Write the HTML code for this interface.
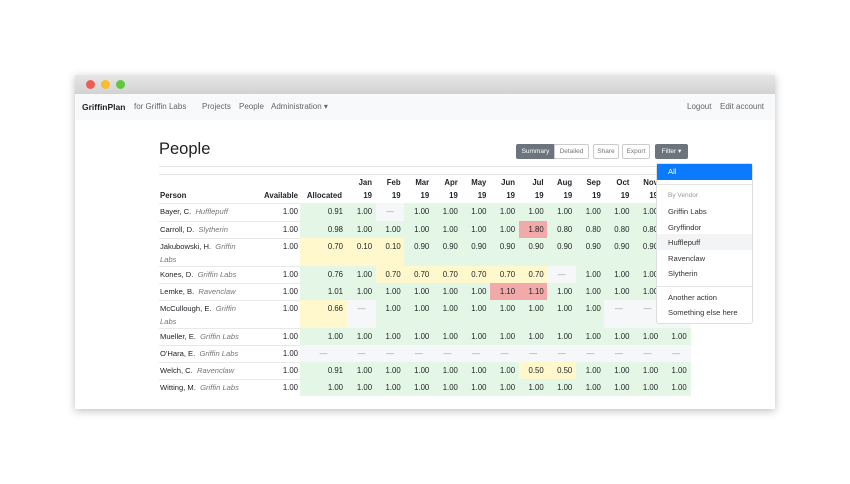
<!DOCTYPE html>
<html><head><meta charset="utf-8">
<style>
*{margin:0;padding:0;box-sizing:border-box}
body{width:850px;height:484px;background:#fff;font-family:"Liberation Sans",sans-serif;color:#212529;position:relative;overflow:hidden}
.a{position:absolute}
.win{left:75px;top:75px;width:700px;height:334px;background:#fff;box-shadow:0 2px 8px rgba(0,0,0,.25)}
.tb{left:0;top:0;width:700px;height:19px;background:linear-gradient(#e6e6e6,#d2d2d2)}
.dot{width:9px;height:9px;border-radius:50%;top:5px}
.nav{left:0;top:19px;width:700px;height:26px;background:#f8f9fa;font-size:8px;color:#666}
.cell{position:absolute;font-size:7.8px;text-align:right;padding-right:4px;line-height:17px}
.hd{font-size:7.8px;font-weight:bold;text-align:right;line-height:13px}
.btn{top:144px;height:15px;font-size:6.5px;line-height:13px;text-align:center;border:1px solid #ccc;border-radius:2px;color:#777}
.dd{font-size:7.6px;color:#333;left:668px}
</style></head><body>
<div class="a win">
 <div class="a tb">
  <div class="a dot" style="left:11px;background:#ee5c55"></div>
  <div class="a dot" style="left:26px;background:#f6bd2f"></div>
  <div class="a dot" style="left:41px;background:#5fc83f"></div>
 </div>
 <div class="a nav">
  <span class="a" style="left:7px;top:8px;font-size:8.5px;color:#222;font-weight:bold">GriffinPlan</span>
  <span class="a" style="left:59px;top:8px">for Griffin Labs</span>
  <span class="a" style="left:127px;top:8px">Projects</span>
  <span class="a" style="left:164px;top:8px">People</span>
  <span class="a" style="left:196px;top:8px">Administration ▾</span>
  <span class="a" style="left:612px;top:8px">Logout</span>
  <span class="a" style="left:645px;top:8px">Edit account</span>
 </div>
</div>
<div class="a" style="left:159px;top:140px;font-size:16.5px;color:#222">People</div>
<div class="a btn" style="left:516px;width:39px;background:#6c757d;color:#fff;border-color:#6c757d">Summary</div>
<div class="a btn" style="left:554px;width:35px">Detailed</div>
<div class="a btn" style="left:593px;width:26px">Share</div>
<div class="a btn" style="left:622px;width:28px">Export</div>
<div class="a btn" style="left:655px;width:33px;background:#6c757d;color:#fff;border-color:#6c757d">Filter ▾</div>
<div class="a" style="left:159px;top:166px;width:531px;height:1px;background:#e5e5e5"></div>
<div class="a" style="left:159px;top:174px;width:531px;height:1px;background:#e5e5e5"></div>
<div id="tbl"></div>
<div class="a" style="left:656px;top:163px;width:97px;height:161px;background:#fff;border:1px solid #ddd;border-radius:3px">
</div>
<div class="a" style="left:657px;top:164px;width:95px;height:16px;background:#0a7bff"></div>
<div class="a dd" style="top:167px;color:#fff">All</div>
<div class="a" style="left:657px;top:184px;width:95px;height:1px;background:#e5e5e5"></div>
<div class="a dd" style="top:192px;font-size:6.5px;color:#999">By Vendor</div>
<div class="a" style="left:657px;top:234px;width:95px;height:16px;background:#f3f4f6"></div>
<div class="a dd" style="top:207px">Griffin Labs</div>
<div class="a dd" style="top:223px">Gryffindor</div>
<div class="a dd" style="top:238px">Hufflepuff</div>
<div class="a dd" style="top:254px">Ravenclaw</div>
<div class="a dd" style="top:269px">Slytherin</div>
<div class="a" style="left:657px;top:286px;width:95px;height:1px;background:#e5e5e5"></div>
<div class="a dd" style="top:293px">Another action</div>
<div class="a dd" style="top:308px">Something else here</div>
<script>
const months=["Jan","Feb","Mar","Apr","May","Jun","Jul","Aug","Sep","Oct","Nov","Dec"];
const names=["Bayer, C.","Carroll, D.","Jakubowski, H.","Kones, D.","Lemke, B.","McCullough, E.","Mueller, E.","O'Hara, E.","Welch, C.","Witting, M."];
const vendors=["Hufflepuff","Slytherin","Griffin Labs","Griffin Labs","Ravenclaw","Griffin Labs","Griffin Labs","Griffin Labs","Ravenclaw","Griffin Labs"];
const available=[1,1,1,1,1,1,1,1,1,1];
const allocated=[0.91,0.98,0.70,0.76,1.01,0.66,1.00,null,0.91,1.00];
const monthly=[
[1,null,1,1,1,1,1,1,1,1,1,1],
[1,1,1,1,1,1,1.8,0.8,0.8,0.8,0.8,0.8],
[0.1,0.1,0.9,0.9,0.9,0.9,0.9,0.9,0.9,0.9,0.9,0.9],
[1,0.7,0.7,0.7,0.7,0.7,0.7,null,1,1,1,1],
[1,1,1,1,1,1.1,1.1,1,1,1,1,1],
[null,1,1,1,1,1,1,1,1,null,null,null],
[1,1,1,1,1,1,1,1,1,1,1,1],
[null,null,null,null,null,null,null,null,null,null,null,null],
[1,1,1,1,1,1,0.5,0.5,1,1,1,1],
[1,1,1,1,1,1,1,1,1,1,1,1]];
const rowH=[18,17,28,17,17,28,17,17,17,17];
const T=document.getElementById('tbl');
function color(v){if(v==null)return'#f6f7f9';if(v>1.05)return'#f1a9a9';if(v<0.75)return'#fff8cc';return'#e4f7e7';}
function fmt(v){return v==null?'—':v.toFixed(2);}
function add(x,y,w,h,txt,bg,cls,nm,extra){const d=document.createElement('div');d.className=cls;d.style.cssText=`left:${x}px;top:${y}px;width:${w}px;height:${h}px;`+(bg?`background:${bg};`:'')+(extra||'');d.innerHTML=txt;


T.appendChild(d);return d;}
const CW=28.6;
const colX=j=>347+j*CW;
add(160,189,80,13,'Person',null,'a hd','header-person','text-align:left');
add(245,189,53,13,'Available',null,'a hd','header-available');
add(300,189,42,13,'Allocated',null,'a hd','header-allocated');
months.forEach((m,j)=>add(colX(j),176,25,26,m+'<br>19',null,'a hd','header-'+m.toLowerCase()));
let y=203;
names.forEach((n,i)=>{
 const h=rowH[i];
 add(159,y,531,1,'','#e8e8e8','a','row-divider');
 add(160,y,90,h,n+'&nbsp;&nbsp;<i style="color:#777">'+vendors[i]+'</i>',null,'a','person-name','font-size:7.6px;line-height:'+(h>20?'13px;padding-top:2px':'17px'));
 add(250,y,52,h,fmt(available[i]),null,'cell','available-value');
 add(300,y,47,h,fmt(allocated[i]),color(allocated[i]),'cell','allocated-value',allocated[i]==null?'text-align:center;padding:0;color:#999':'');
 monthly[i].forEach((v,j)=>add(colX(j),y,CW+0.5,h,fmt(v),color(v),'cell','month-value',v==null?'text-align:center;padding:0;color:#999':''));
 y+=h;
});
</script>
</body></html>
